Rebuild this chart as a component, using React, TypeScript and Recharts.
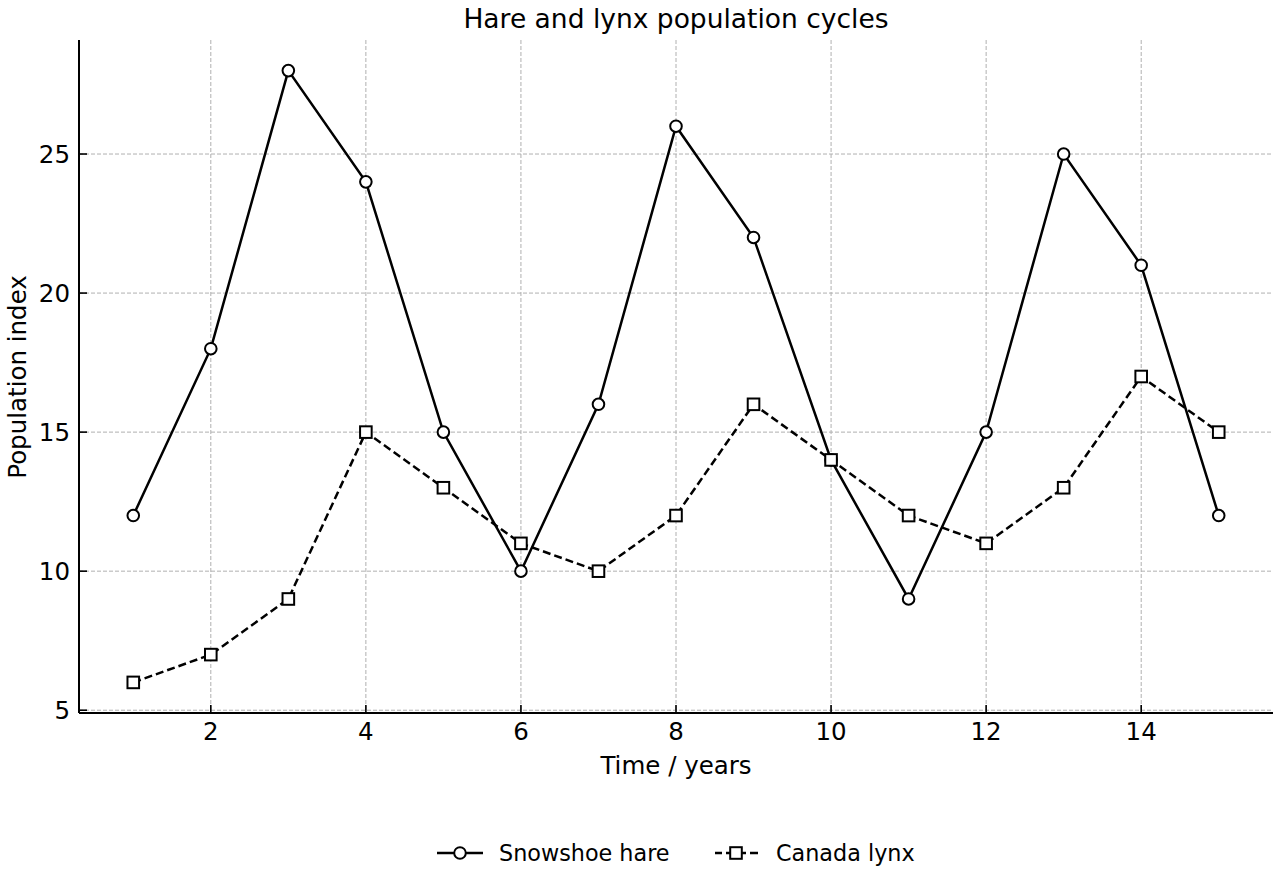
import { CartesianGrid, Legend, Line, LineChart, XAxis, YAxis } from 'recharts';

const years = [1, 2, 3, 4, 5, 6, 7, 8, 9, 10, 11, 12, 13, 14, 15];
const hare = [12, 18, 28, 24, 15, 10, 16, 26, 22, 14, 9, 15, 25, 21, 12];
const lynx = [6, 7, 9, 15, 13, 11, 10, 12, 16, 14, 12, 11, 13, 17, 15];
const xTicks = [2, 4, 6, 8, 10, 12, 14];
const yTicks = [5, 10, 15, 20, 25];

const FONT = '"DejaVu Sans", sans-serif';

const data = years.map((t, i) => ({ t, hare: hare[i], lynx: lynx[i] }));

function CircleDot({ cx, cy, index }: any) {
  return <circle key={'c' + index} cx={cx} cy={cy} r={5.8} fill="#fff" stroke="#000" strokeWidth={2} />;
}

function SquareDot({ cx, cy, index }: any) {
  return <rect key={'s' + index} x={cx - 5.8} y={cy - 5.8} width={11.6} height={11.6} fill="#fff" stroke="#000" strokeWidth={2} />;
}

// ticks point inward, matplotlib style
function LeftTick({ x, y, payload }: any) {
  return (
    <g>
      <line x1={x} y1={y} x2={x + 8} y2={y} stroke="#000" strokeWidth={1.6} />
      <text x={x - 9} y={y} dy={9} textAnchor="end" fontSize={24.5} fontFamily={FONT} fill="#000">
        {payload.value}
      </text>
    </g>
  );
}

function BottomTick({ x, y, payload }: any) {
  return (
    <g>
      <line x1={x} y1={y} x2={x} y2={y - 8} stroke="#000" strokeWidth={1.6} />
      <text x={x} y={y + 27} textAnchor="middle" fontSize={24.5} fontFamily={FONT} fill="#000">
        {payload.value}
      </text>
    </g>
  );
}

function LegendContent() {
  return (
    <svg width={1280} height={40}>
      <g transform="translate(437,20)">
        <line x1={0} y1={0} x2={46} y2={0} stroke="#000" strokeWidth={2.5} />
        <circle cx={23} cy={0} r={5.8} fill="#fff" stroke="#000" strokeWidth={2} />
        <text x={62} y={8} fontSize={22.3} fontFamily={FONT} fill="#000">Snowshoe hare</text>
      </g>
      <g transform="translate(715,20)">
        <line x1={0} y1={0} x2={46} y2={0} stroke="#000" strokeWidth={2.5} strokeDasharray="8 4" strokeDashoffset={1} />
        <rect x={15.2} y={-5.8} width={11.6} height={11.6} fill="#fff" stroke="#000" strokeWidth={2} />
        <text x={61} y={8} fontSize={22.3} fontFamily={FONT} fill="#000">Canada lynx</text>
      </g>
    </svg>
  );
}

export default function App() {
  return (
    <div style={{ position: 'absolute', left: 0, top: 0, width: 1280, height: 880, background: '#fff' }}>
      <LineChart width={1280} height={880} data={data} margin={{ top: 40, right: 7, bottom: 127, left: 0 }}>
        <text x={676} y={28} textAnchor="middle" fontSize={26.5} fontFamily={FONT} fill="#000">
          Hare and lynx population cycles
        </text>
        <CartesianGrid
          stroke="#b0b0b0"
          strokeWidth={1}
          strokeDasharray="4 2"
          horizontalValues={yTicks}
          verticalValues={xTicks}
        />
        <XAxis
          dataKey="t"
          type="number"
          domain={[0.3, 15.7]}
          ticks={xTicks}
          height={40}
          tickSize={0}
          tickMargin={0}
          tickLine={false}
          tick={<BottomTick />}
          axisLine={{ stroke: '#000', strokeWidth: 2 }}
          allowDataOverflow
        />
        <YAxis
          type="number"
          domain={[4.9, 29.1]}
          ticks={yTicks}
          width={79}
          tickSize={0}
          tickMargin={0}
          tickLine={false}
          tick={<LeftTick />}
          axisLine={{ stroke: '#000', strokeWidth: 2 }}
          allowDataOverflow
        />
        <Line
          dataKey="hare"
          name="Snowshoe hare"
          stroke="#000"
          strokeWidth={2.5}
          dot={CircleDot}
          activeDot={false}
          isAnimationActive={false}
        />
        <Line
          dataKey="lynx"
          name="Canada lynx"
          stroke="#000"
          strokeWidth={2.5}
          strokeDasharray="8 4"
          dot={SquareDot}
          activeDot={false}
          isAnimationActive={false}
        />
        <Legend
          layout="horizontal"
          verticalAlign="middle"
          align="center"
          content={<LegendContent />}
          wrapperStyle={{ top: 833, left: 0, width: 1280 }}
        />
        <text x={676} y={774} textAnchor="middle" fontSize={24.5} fontFamily={FONT} fill="#000">
          Time / years
        </text>
        <text
          x={26}
          y={377}
          textAnchor="middle"
          fontSize={24.5}
          fontFamily={FONT}
          fill="#000"
          transform="rotate(-90 26 377)"
        >
          Population index
        </text>
      </LineChart>
    </div>
  );
}
